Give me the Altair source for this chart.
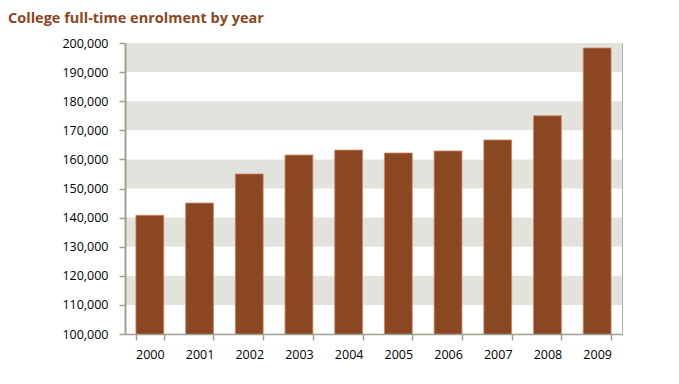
import altair as alt
import pandas as pd

years = ["2000", "2001", "2002", "2003", "2004", "2005", "2006", "2007", "2008", "2009"]
enrolment = [140800, 145000, 155000, 161500, 163200, 162200, 162900, 166700, 175000, 198300]
band_lo = [110000, 130000, 150000, 170000, 190000]
band_hi = [120000, 140000, 160000, 180000, 200000]
y_ticks = [100000, 110000, 120000, 130000, 140000, 150000, 160000, 170000, 180000, 190000, 200000]

bars_df = pd.DataFrame({"year": years, "value": enrolment})
bands_df = pd.DataFrame({"lo": band_lo, "hi": band_hi})

W, H = 497, 291

yscale = alt.Scale(domain=[100000, 200000], nice=False, zero=False)
yaxis = alt.Axis(values=y_ticks, format=",.0f", grid=False, zindex=1,
                 domainColor="#a0a092", domainWidth=2,
                 tickColor="#a0a092", tickSize=6, tickWidth=1.5, labelPadding=11,
                 labelFontSize=12.5, labelFont="Open Sans",
                 labelColor="#000000")

bands = alt.Chart(bands_df).mark_rect(color="#e3e3de").encode(
    y=alt.Y("lo:Q", scale=yscale, title=None, axis=yaxis),
    y2="hi:Q",
    x=alt.value(0),
    x2=alt.value(W),
)

bars = alt.Chart(bars_df).mark_bar(
    color="#8b4721", stroke="#c98a66", strokeWidth=0.8, clip=True
).encode(
    x=alt.X("year:N", sort=years, title=None,
            scale=alt.Scale(paddingInner=0.44, paddingOuter=0.22),
            axis=alt.Axis(labelAngle=0, tickBand="extent", domain=True, zindex=1,
                          domainColor="#a0a092", domainWidth=1.5,
                          tickColor="#a0a092", tickWidth=1.5,
                          tickSize=6, labelPadding=8, labelFontSize=12.5,
                          labelFont="Open Sans", labelColor="#000000")),
    y=alt.Y("value:Q", scale=yscale, title=None, axis=yaxis),
)

chart = alt.layer(bands, bars).properties(
    width=W, height=H,
    autosize=alt.AutoSizeParams(type="none"),
    padding={"left": 117, "top": 35, "right": 49, "bottom": 30},
    title=alt.TitleParams(
        "College full-time enrolment by year",
        anchor="start", frame="group", dx=-117, dy=-7,
        font="Open Sans", fontSize=14.5, fontWeight="bold", color="#8b4721",
    ),
).configure_view(stroke="#b0b0a4", strokeWidth=1)

chart.save("out.html", embed_options={"renderer": "svg", "actions": False})
